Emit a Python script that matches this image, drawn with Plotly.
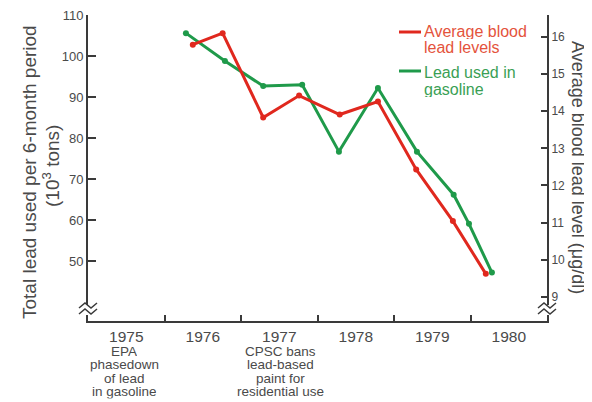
import plotly.graph_objects as go

# ---- data ----
year_labels = ["1975", "1976", "1977", "1978", "1979", "1980"]
year_label_pos = [1975.5, 1976.5, 1977.5, 1978.5, 1979.5, 1980.5]
year_ticks = [1976, 1977, 1978, 1979, 1980]

gas_x = [1976.28, 1976.79, 1977.29, 1977.80, 1978.28, 1978.79, 1979.30, 1979.78, 1979.98, 1980.28]
gas_y = [105.6, 98.8, 92.7, 93.0, 76.7, 92.2, 76.7, 66.2, 59.1, 47.2]

blood_x = [1976.37, 1976.76, 1977.29, 1977.76, 1978.29, 1978.79, 1979.29, 1979.77, 1980.20]
blood_y = [15.79, 16.10, 13.83, 14.42, 13.91, 14.26, 12.43, 11.04, 9.62]

left_ticks = [50, 60, 70, 80, 90, 100, 110]
right_ticks = [9, 10, 11, 12, 13, 14, 15, 16]

RED = "#e0281e"
GREEN = "#1f9a4a"
RED_TXT = "#e4533c"
GREEN_TXT = "#3a9f55"
AX = "#3a3a3a"
TXT = "#4a4a4a"
FONT = "Liberation Sans, Arial, sans-serif"

# the page body has an 8px margin: size the figure to fill the rest of the window
OFF = 8
W, H = 592 - OFF, 402 - OFF
L, R, T, B = 88 - OFF, 45, 15 - OFF, 81
PX0, PX1, PY0, PY1 = 88, 547, 15, 321   # plot area in window pixels
PW, PH = PX1 - PX0, PY1 - PY0


def px(x):
    return (x - PX0) / PW


def py(y):
    return (PY1 - y) / PH


fig = go.Figure()
fig.add_trace(go.Scatter(x=gas_x, y=gas_y, mode="lines+markers", name="Lead used in gasoline",
                         line=dict(color=GREEN, width=3), marker=dict(size=6, color=GREEN),
                         showlegend=False))
fig.add_trace(go.Scatter(x=blood_x, y=blood_y, mode="lines+markers", name="Average blood lead levels",
                         line=dict(color=RED, width=3), marker=dict(size=6, color=RED),
                         yaxis="y2", showlegend=False))

fig.update_layout(
    width=W, height=H, margin=dict(l=L, r=R, t=T, b=B, autoexpand=False),
    paper_bgcolor="white", plot_bgcolor="white",
    font=dict(family=FONT, color=TXT),
    xaxis=dict(range=[1975, 1981], showgrid=False, zeroline=False,
               showline=True, linecolor=AX, linewidth=2,
               tickvals=year_label_pos, ticktext=year_labels, ticks="",
               tickfont=dict(size=15.5, color=TXT),
               minor=dict(tickvals=year_ticks, ticks="inside", ticklen=6, tickwidth=2, tickcolor=AX)),
    yaxis=dict(range=[35.4, 110.02], showgrid=False, zeroline=False,
               showline=True, linecolor=AX, linewidth=2, ticklabeloverflow="allow",
               tickvals=left_ticks, ticks="inside", ticklen=8, tickwidth=2, tickcolor=AX,
               tickfont=dict(size=13, color=TXT)),
    yaxis2=dict(range=[8.35, 16.59], overlaying="y", side="right", showgrid=False, zeroline=False,
                showline=True, linecolor=AX, linewidth=2, ticklabeloverflow="allow",
                tickvals=right_ticks, ticks="inside", ticklen=6, tickwidth=2, tickcolor=AX,
                tickfont=dict(size=12, color=TXT)),
)

anns = []
# axis titles
anns.append(dict(x=px(29), y=py(172), xref="paper", yref="paper", text="Total lead used per 6-month period",
                 textangle=-90, showarrow=False, font=dict(size=19, color=TXT), xanchor="center", yanchor="middle"))
anns.append(dict(x=px(51), y=py(166), xref="paper", yref="paper", text="(10<sup>3</sup> tons)",
                 textangle=-90, showarrow=False, font=dict(size=19, color=TXT), xanchor="center", yanchor="middle"))
anns.append(dict(x=px(578), y=py(167), xref="paper", yref="paper", text="Average blood lead level (μg/dl)",
                 textangle=90, showarrow=False, font=dict(size=18, color=TXT), xanchor="center", yanchor="middle"))

# legend (drawn)
leg = [("Average blood", 31, RED_TXT), ("lead levels", 47, RED_TXT),
       ("Lead used in", 72, GREEN_TXT), ("gasoline", 89, GREEN_TXT)]
for t, yy, c in leg:
    anns.append(dict(x=px(422), y=py(yy), xref="paper", yref="paper", text=t, showarrow=False,
                     font=dict(size=16, color=c), xanchor="left", yanchor="middle", height=16))

# event notes
notes = [(124, ["EPA", "phasedown", "of lead", "in gasoline"]),
         (280, ["CPSC bans", "lead-based", "paint for", "residential use"])]
for cx, lines in notes:
    for i, t in enumerate(lines):
        anns.append(dict(x=px(cx), y=py(351 + i * 13.6), xref="paper", yref="paper", text=t, showarrow=False,
                         font=dict(size=13.5, color=TXT), xanchor="center", yanchor="middle",
                         height=13.4, borderpad=0))

shapes = []
shapes.append(dict(type="line", xref="paper", yref="paper", x0=px(399), x1=px(421), y0=py(32), y1=py(32),
                   line=dict(color=RED, width=3)))
shapes.append(dict(type="line", xref="paper", yref="paper", x0=px(399), x1=px(421), y0=py(71), y1=py(71),
                   line=dict(color=GREEN, width=3)))


def zig(x0, y0):
    pts = [(x0, y0 + 5), (x0 + 6, y0), (x0 + 12, y0 + 5), (x0 + 18, y0)]
    return "M " + " L ".join(f"{px(a):.5f},{py(b):.5f}" for a, b in pts)


for ax in (PX0, PX1):
    shapes.append(dict(type="rect", xref="paper", yref="paper", x0=px(ax - 3), x1=px(ax + 3),
                       y0=py(315), y1=py(305), fillcolor="white", line=dict(width=0), layer="above"))
    shapes.append(dict(type="path", xref="paper", yref="paper", path=zig(ax - 9, 303),
                       line=dict(color=AX, width=1.5), layer="above"))
    shapes.append(dict(type="path", xref="paper", yref="paper", path=zig(ax - 9, 309),
                       line=dict(color=AX, width=1.5), layer="above"))

fig.update_layout(annotations=anns, shapes=shapes)
fig.write_html("out.html")
